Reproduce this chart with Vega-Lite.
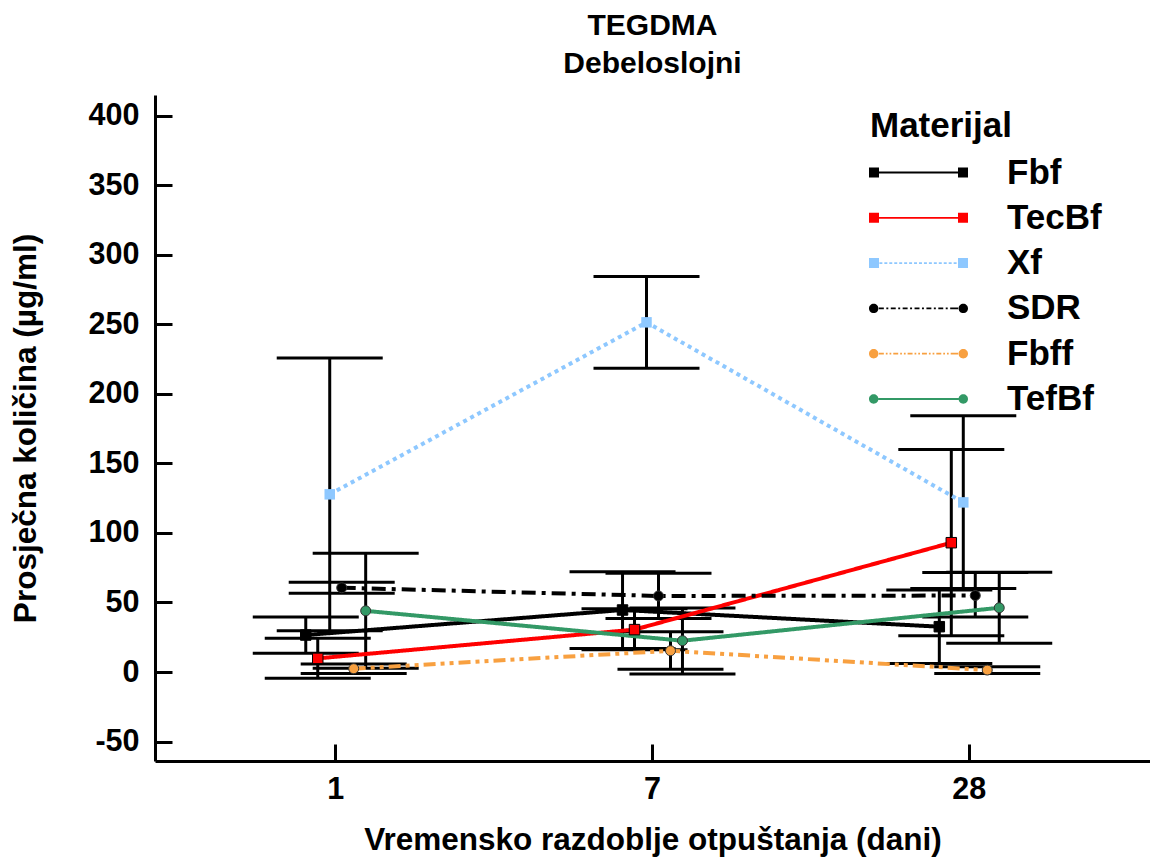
{
  "$schema": "https://vega.github.io/schema/vega-lite/v6.json",
  "width": 995,
  "height": 666,
  "autosize": {"type": "none"},
  "padding": {"left": 155, "top": 95, "right": 0, "bottom": 104},
  "background": "white",
  "config": {
    "view": {"stroke": null},
    "font": "Liberation Sans",
    "axis": {
      "domainColor": "black", "domainWidth": 3,
      "tickColor": "black", "tickWidth": 3, "tickSize": -17,
      "labelFont": "Liberation Sans", "labelFontSize": 30.5, "labelFontWeight": "bold", "labelColor": "black",
      "labelPadding": 30,
      "titleFont": "Liberation Sans", "titleFontSize": 31.5, "titleFontWeight": "bold", "titleColor": "black",
      "grid": false
    },
    "axisX": {"titlePadding": 20},
    "axisY": {"titlePadding": 46, "labelPadding": 33, "labelExpr": "replace(datum.label, '−', '-')"}
  },
  "title": {
    "text": ["TEGDMA", "Debeloslojni"],
    "font": "Liberation Sans", "fontSize": 30, "fontWeight": "bold", "color": "black",
    "anchor": "middle", "frame": "group", "offset": 16, "lineHeight": 38
  },
  "data": {
    "values": [
      {"Materijal": "Fbf", "dan": 1, "mean": 26.6, "lo": 13.5, "hi": 39.5},
      {"Materijal": "Fbf", "dan": 7, "mean": 44.6, "lo": 17, "hi": 72.2},
      {"Materijal": "Fbf", "dan": 28, "mean": 32.6, "lo": 6.2, "hi": 59},
      {"Materijal": "TecBf", "dan": 1, "mean": 9.8, "lo": -4.5, "hi": 24.2},
      {"Materijal": "TecBf", "dan": 7, "mean": 30.5, "lo": 16, "hi": 45.5},
      {"Materijal": "TecBf", "dan": 28, "mean": 93, "lo": 26, "hi": 160},
      {"Materijal": "Xf", "dan": 1, "mean": 127.8, "lo": 29.7, "hi": 225.8},
      {"Materijal": "Xf", "dan": 7, "mean": 251.5, "lo": 218.5, "hi": 284.5},
      {"Materijal": "Xf", "dan": 28, "mean": 122, "lo": 60, "hi": 184.4},
      {"Materijal": "SDR", "dan": 1, "mean": 60.6, "lo": 56.7, "hi": 64.5},
      {"Materijal": "SDR", "dan": 7, "mean": 54.7, "lo": 38.4, "hi": 71},
      {"Materijal": "SDR", "dan": 28, "mean": 55, "lo": 39.5, "hi": 71.5},
      {"Materijal": "Fbff", "dan": 1, "mean": 2.4, "lo": -1, "hi": 5.8},
      {"Materijal": "Fbff", "dan": 7, "mean": 15.3, "lo": 1.9, "hi": 29},
      {"Materijal": "Fbff", "dan": 28, "mean": 1.4, "lo": -1, "hi": 3.8},
      {"Materijal": "TefBf", "dan": 1, "mean": 44, "lo": 2.7, "hi": 85.4},
      {"Materijal": "TefBf", "dan": 7, "mean": 22.5, "lo": -1.4, "hi": 46},
      {"Materijal": "TefBf", "dan": 28, "mean": 46.2, "lo": 20.6, "hi": 71.7}
    ]
  },
  "encoding": {
    "x": {
      "field": "dan", "type": "ordinal",
      "scale": {"domain": [1, 7, 28], "paddingInner": 0.773, "paddingOuter": 0.457},
      "axis": {"title": "Vremensko razdoblje otpuštanja (dani)", "labelAngle": 0}
    },
    "xOffset": {
      "field": "Materijal", "type": "nominal",
      "scale": {"domain": ["Fbf", "TecBf", "Xf", "SDR", "Fbff", "TefBf"], "paddingInner": 0, "paddingOuter": 0}
    },
    "y": {"field": "mean", "type": "quantitative", "title": "Prosječna količina (µg/ml)",
          "scale": {"domain": [-64, 415], "nice": false, "zero": false},
          "axis": {"values": [-50, 0, 50, 100, 150, 200, 250, 300, 350, 400]}}
  },
  "layer": [
    {
      "mark": {"type": "rule", "color": "black", "strokeWidth": 3},
      "encoding": {
        "y": {"field": "lo", "type": "quantitative", "title": "Prosječna količina (µg/ml)",
              "scale": {"domain": [-64, 415], "nice": false, "zero": false},
              "axis": {"values": [-50, 0, 50, 100, 150, 200, 250, 300, 350, 400]}},
        "y2": {"field": "hi"}
      }
    },
    {
      "mark": {"type": "tick", "color": "black", "thickness": 3, "size": 106, "opacity": 1, "orient": "horizontal"},
      "encoding": {
        "y": {"field": "lo", "type": "quantitative", "title": "Prosječna količina (µg/ml)",
              "scale": {"domain": [-64, 415], "nice": false, "zero": false},
              "axis": {"values": [-50, 0, 50, 100, 150, 200, 250, 300, 350, 400]}}
      }
    },
    {
      "mark": {"type": "tick", "color": "black", "thickness": 3, "size": 106, "opacity": 1, "orient": "horizontal"},
      "encoding": {
        "y": {"field": "hi", "type": "quantitative", "title": "Prosječna količina (µg/ml)",
              "scale": {"domain": [-64, 415], "nice": false, "zero": false},
              "axis": {"values": [-50, 0, 50, 100, 150, 200, 250, 300, 350, 400]}}
      }
    },
    {
      "mark": {"type": "line", "strokeWidth": 4},
      "encoding": {
        "color": {
          "field": "Materijal", "type": "nominal",
          "scale": {"domain": ["Fbf", "TecBf", "Xf", "SDR", "Fbff", "TefBf"],
                    "range": ["#000000", "#ff0000", "#8ec8ff", "#000000", "#f8a040", "#339966"]},
          "legend": {
            "title": "Materijal", "orient": "none", "legendX": 715, "legendY": 14, "padding": 0,
            "titleFont": "Liberation Sans", "titleFontSize": 35, "titleFontWeight": "bold", "titleColor": "black", "titlePadding": 11,
            "labelFont": "Liberation Sans", "labelFontSize": 35, "labelFontWeight": "bold", "labelColor": "black",
            "labelOffset": 71, "symbolOffset": 31, "labelLimit": 0, "rowPadding": 9.3, "symbolSize": 1089, "symbolStrokeWidth": 0,
            "encode": {"symbols": {"update": {
              "shape": {"signal": "(datum.value === 'Fbf' || datum.value === 'TecBf') ? 'M-3,-0.303H-2.394V0.303H-3Z M2.394,-0.303H3V0.303H2.394Z M-2.4,-0.054H2.4V0.054H-2.4Z' : datum.value === 'Xf' ? 'M-3,-0.303H-2.394V0.303H-3Z M2.394,-0.303H3V0.303H2.394Z M-2.37,-0.054H-2.19V0.054H-2.37Z M-2.07,-0.054H-1.89V0.054H-2.07Z M-1.77,-0.054H-1.59V0.054H-1.77Z M-1.47,-0.054H-1.29V0.054H-1.47Z M-1.17,-0.054H-0.99V0.054H-1.17Z M-0.87,-0.054H-0.69V0.054H-0.87Z M-0.57,-0.054H-0.39V0.054H-0.57Z M-0.27,-0.054H-0.09V0.054H-0.27Z M0.03,-0.054H0.21V0.054H0.03Z M0.33,-0.054H0.51V0.054H0.33Z M0.63,-0.054H0.81V0.054H0.63Z M0.93,-0.054H1.11V0.054H0.93Z M1.23,-0.054H1.41V0.054H1.23Z M1.53,-0.054H1.71V0.054H1.53Z M1.83,-0.054H2.01V0.054H1.83Z M2.13,-0.054H2.31V0.054H2.13Z' : datum.value === 'SDR' ? 'M-3,0A0.285,0.285 0 1,0 -2.43,0A0.285,0.285 0 1,0 -3,0Z M2.43,0A0.285,0.285 0 1,0 3,0A0.285,0.285 0 1,0 2.43,0Z M-2.4,-0.054H-2.1V0.054H-2.4Z M-1.95,-0.054H-1.83V0.054H-1.95Z M-1.68,-0.054H-1.38V0.054H-1.68Z M-1.23,-0.054H-1.11V0.054H-1.23Z M-0.96,-0.054H-0.66V0.054H-0.96Z M-0.51,-0.054H-0.39V0.054H-0.51Z M-0.24,-0.054H0.06V0.054H-0.24Z M0.21,-0.054H0.33V0.054H0.21Z M0.48,-0.054H0.78V0.054H0.48Z M0.93,-0.054H1.05V0.054H0.93Z M1.2,-0.054H1.5V0.054H1.2Z M1.65,-0.054H1.77V0.054H1.65Z M1.92,-0.054H2.4V0.054H1.92Z' : datum.value === 'Fbff' ? 'M-3,0A0.285,0.285 0 1,0 -2.43,0A0.285,0.285 0 1,0 -3,0Z M2.43,0A0.285,0.285 0 1,0 3,0A0.285,0.285 0 1,0 2.43,0Z M-2.4,-0.054H-2.1V0.054H-2.4Z M-1.98,-0.054H-1.875V0.054H-1.98Z M-1.755,-0.054H-1.65V0.054H-1.755Z M-1.53,-0.054H-1.23V0.054H-1.53Z M-1.11,-0.054H-1.005V0.054H-1.11Z M-0.885,-0.054H-0.78V0.054H-0.885Z M-0.66,-0.054H-0.36V0.054H-0.66Z M-0.24,-0.054H-0.135V0.054H-0.24Z M-0.015,-0.054H0.09V0.054H-0.015Z M0.21,-0.054H0.51V0.054H0.21Z M0.63,-0.054H0.735V0.054H0.63Z M0.855,-0.054H0.96V0.054H0.855Z M1.08,-0.054H1.38V0.054H1.08Z M1.5,-0.054H1.605V0.054H1.5Z M1.725,-0.054H1.83V0.054H1.725Z M1.95,-0.054H2.4V0.054H1.95Z' : 'M-3,0A0.285,0.285 0 1,0 -2.43,0A0.285,0.285 0 1,0 -3,0Z M2.43,0A0.285,0.285 0 1,0 3,0A0.285,0.285 0 1,0 2.43,0Z M-2.43,-0.054H2.43V0.054H-2.43Z'"},
              "fill": {"signal": "scale('color', datum.value)"},
              "stroke": {"value": "transparent"},
              "strokeWidth": {"value": 0},
              "size": {"value": 1089},
              "opacity": {"value": 1},
              "strokeDash": {"value": []}
            }}}
          }
        },
        "strokeDash": {
          "field": "Materijal", "type": "nominal",
          "scale": {"domain": ["Fbf", "TecBf", "Xf", "SDR", "Fbff", "TefBf"],
                    "range": [[1, 0], [1, 0], [4, 4], [14, 6, 4, 6], [12, 5, 4, 5, 4, 5], [1, 0]]},
          "legend": null
        }
      }
    },
    {
      "transform": [{"filter": {"field": "Materijal", "oneOf": ["Fbf", "TecBf"]}}],
      "mark": {"type": "square", "opacity": 1, "strokeWidth": 1, "size": 110, "stroke": "#000000"},
      "encoding": {
        "color": {"field": "Materijal", "type": "nominal", "legend": null}
      }
    },
    {
      "transform": [{"filter": {"field": "Materijal", "equal": "Xf"}}],
      "mark": {"type": "square", "opacity": 1, "strokeWidth": 0, "size": 110},
      "encoding": {
        "color": {"field": "Materijal", "type": "nominal", "legend": null}
      }
    },
    {
      "transform": [{"filter": {"field": "Materijal", "oneOf": ["SDR", "Fbff", "TefBf"]}}],
      "mark": {"type": "circle", "opacity": 1, "strokeWidth": 1, "size": 100, "stroke": "#333333"},
      "encoding": {
        "color": {"field": "Materijal", "type": "nominal", "legend": null}
      }
    }
  ]
}
